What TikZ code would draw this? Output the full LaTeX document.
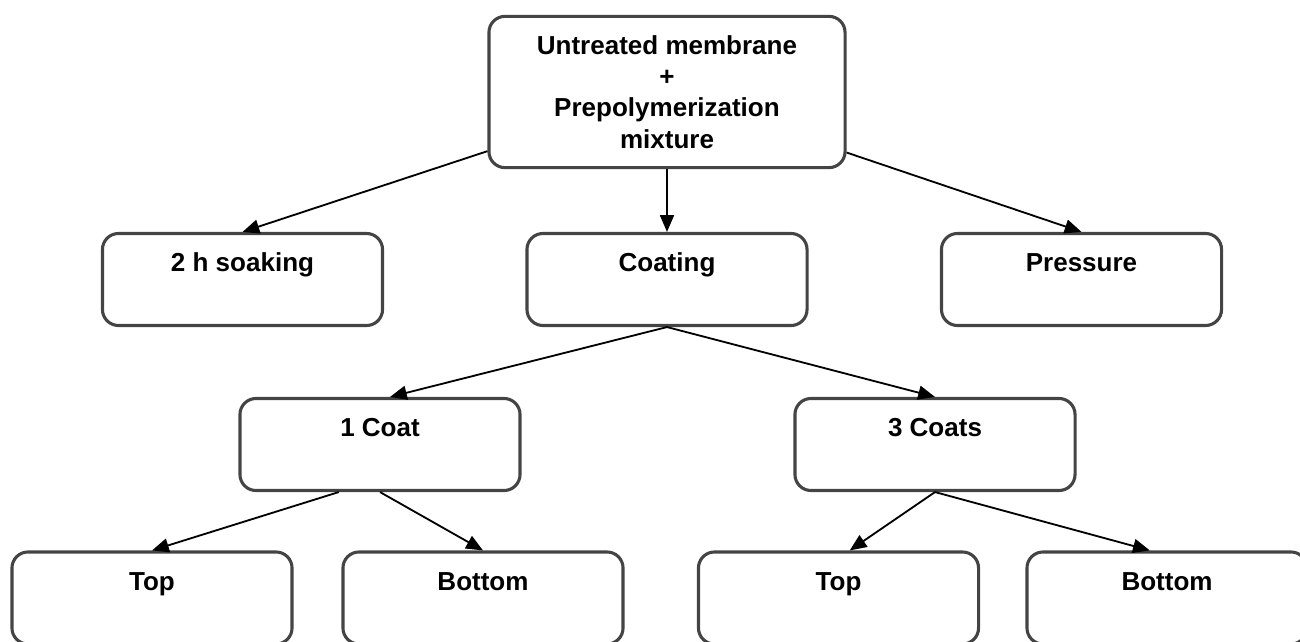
\documentclass[tikz,border=0pt]{standalone}
\usepackage{fontspec}
\setmainfont{Liberation Sans}
\usepackage{xcolor}
\usetikzlibrary{arrows.meta}

\definecolor{boxgray}{RGB}{68,68,68}
\tikzset{
  plainbox/.style={draw=boxgray, line width=2.2pt, rounded corners=0.4cm, inner sep=0pt,
    font=\fontsize{18.5}{22.3}\selectfont\bfseries},
  stepbox/.style={plainbox, minimum width=7cm, minimum height=2.3cm,
    text height=0.95cm, text depth=1.35cm},
  rootbox/.style={plainbox, minimum width=8.9cm, minimum height=3.78cm, align=center},
  link/.style={line width=1.3pt, -{Triangle[length=0.42cm,width=0.35cm]}}
}

\begin{document}
\begin{tikzpicture}[x=0.025cm, y=-0.025cm]
  \useasboundingbox (0,0) rectangle (1300,642);

  \node[rootbox] (root) at (667,92) {Untreated membrane\\+\\Prepolymerization\\mixture};

  \node[stepbox] (soak) at (242.5,279.5) {2 h soaking};
  \node[stepbox] (coat) at (667,279.5) {Coating};
  \node[stepbox] (press) at (1081.5,279.5) {Pressure};

  \node[stepbox] (one) at (380,444.5) {1 Coat};
  \node[stepbox] (three) at (935,444.5) {3 Coats};

  \node[stepbox] (topA) at (152,598) {Top};
  \node[stepbox] (botA) at (483,598) {Bottom};
  \node[stepbox] (topB) at (838.5,598) {Top};
  \node[stepbox] (botB) at (1167,598) {Bottom};

  \draw[link] (root) -- (soak.north);
  \draw[link] (root.south) -- (coat.north);
  \draw[link] (root) -- (press.north);
  \draw[link] (coat.south) -- ([xshift=0.25cm]one.north);
  \draw[link] (coat.south) -- (three.north);
  \draw[link] ([xshift=-1.03cm]one.south) -- (topA.north);
  \draw[link] (one.south) -- (botA.north);
  \draw[link] (three.south) -- ([xshift=0.28cm]topB.north);
  \draw[link] (three.south) -- ([xshift=-0.43cm]botB.north);
\end{tikzpicture}
\end{document}
